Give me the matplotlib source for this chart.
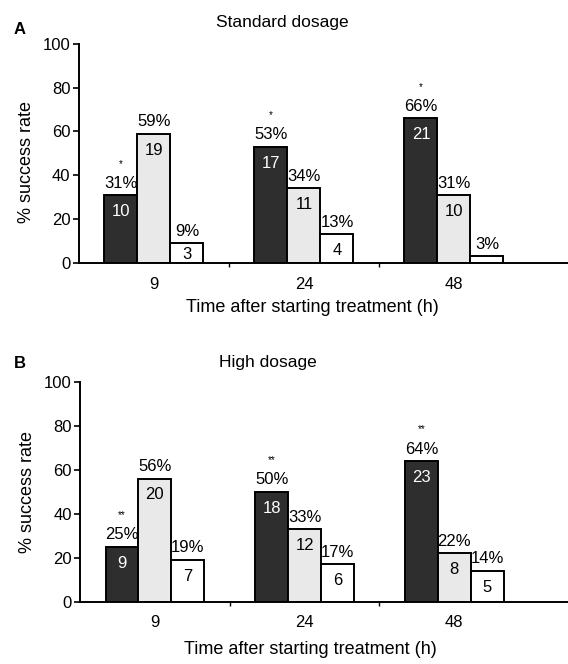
import numpy as np
import matplotlib
matplotlib.use('Agg')
import matplotlib.pyplot as plt

plt.rcParams['font.family'] = ['Liberation Sans', 'DejaVu Sans']

# data
times = ['9', '24', '48']
std_pct = {'dark': [31, 53, 66], 'light': [59, 34, 31], 'white': [9, 13, 3]}
std_n = {'dark': [10, 17, 21], 'light': [19, 11, 10], 'white': [3, 4, None]}
high_pct = {'dark': [25, 50, 64], 'light': [56, 33, 22], 'white': [19, 17, 14]}
high_n = {'dark': [9, 18, 23], 'light': [20, 12, 8], 'white': [7, 6, 5]}
std_sig = '*'
high_sig = '**'

colors = {'dark': '#2e2e2e', 'light': '#e9e9e9', 'white': 'white'}
text_col = {'dark': 'white', 'light': 'black', 'white': 'black'}
offsets = {'dark': -0.22, 'light': 0.0, 'white': 0.22}
width = 0.22
fs = 12

fig = plt.figure(figsize=(5.68, 6.64), dpi=100)


def draw_panel(rect, pct, n, sig, ylab_y):
    ax = fig.add_axes(rect)
    x = np.arange(len(times))
    for key in ['dark', 'light', 'white']:
        xs = x + offsets[key]
        ax.bar(xs, pct[key], width, color=colors[key], edgecolor='black', linewidth=1.4, zorder=2)
        for xi, v, c in zip(xs, pct[key], n[key]):
            ax.text(xi, v + 2.0, '%d%%' % v, ha='center', va='bottom', fontsize=fs)
            if c is not None:
                yc = max(v - 7.5, v * 0.45)
                ax.text(xi, yc, str(c), ha='center', va='center', fontsize=fs,
                        color=text_col[key])
        if key == 'dark':
            for xi, v in zip(xs, pct[key]):
                ax.text(xi, v + 12.0, sig, ha='center', va='bottom', fontsize=7)
    ax.set_xlim(-0.5, 2.76)
    ax.set_ylim(0, 100)
    ax.set_yticks([0, 20, 40, 60, 80, 100])
    ax.set_xticks(x)
    ax.set_xticklabels(times, fontsize=fs)
    ax.tick_params(axis='y', labelsize=fs, length=4, width=1.2, pad=2)
    ax.tick_params(axis='x', length=0, pad=10)
    ax.set_xticks([0.5, 1.5], minor=True)
    ax.tick_params(axis='x', which='minor', length=3, width=1)
    ax.spines['top'].set_visible(False)
    ax.spines['right'].set_visible(False)
    ax.spines['left'].set_linewidth(1.4)
    ax.spines['bottom'].set_linewidth(1.4)
    ax.set_ylabel('% success rate', fontsize=13)
    ax.yaxis.set_label_coords(-0.09, ylab_y)
    return ax


draw_panel([0.139, 0.604, 0.861, 0.330], std_pct, std_n, std_sig, 0.46)
draw_panel([0.141, 0.094, 0.859, 0.331], high_pct, high_n, high_sig, 0.5)

fig.text(282 / 568, 1 - 23 / 664, 'Standard dosage', ha='center', va='center', fontsize=12.5)
fig.text(268 / 568, 1 - 362 / 664, 'High dosage', ha='center', va='center', fontsize=12.5)
fig.text(20 / 568, 1 - 30 / 664, 'A', ha='center', va='center', fontsize=12, fontweight='bold')
fig.text(20 / 568, 1 - 363 / 664, 'B', ha='center', va='center', fontsize=12, fontweight='bold')

fig.text(312 / 568, 1 - 308 / 664, 'Time after starting treatment (h)', ha='center', va='center', fontsize=13)
fig.text(310 / 568, 1 - 650 / 664, 'Time after starting treatment (h)', ha='center', va='center', fontsize=13)

plt.savefig('out.png', dpi=100)
